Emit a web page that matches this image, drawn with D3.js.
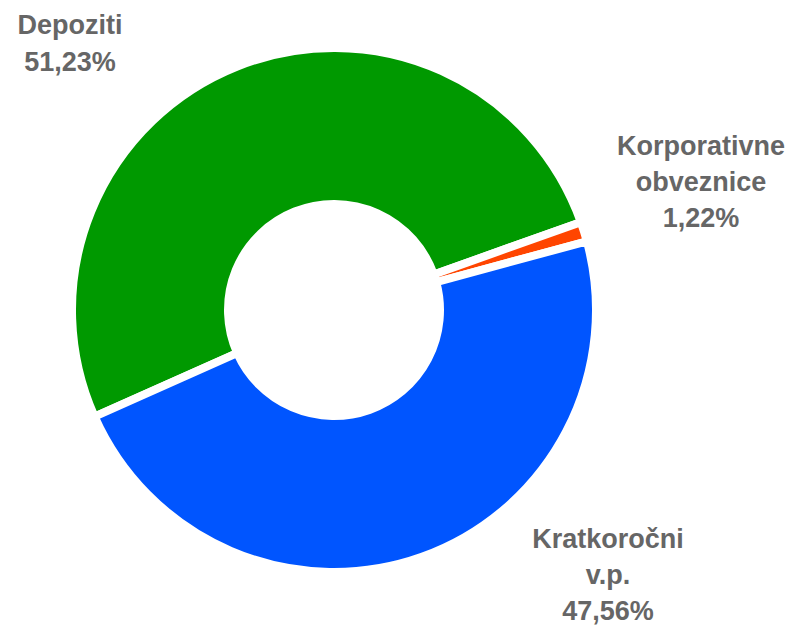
<!DOCTYPE html>
<html><head><meta charset="utf-8">
<script src="https://cdn.jsdelivr.net/npm/d3@7"></script>
<style>html,body{margin:0;padding:0;background:#fff;}</style>
</head><body>
<svg id="c" width="794" height="627"></svg>
<script>
const categories = ["Depoziti", "Korporativne obveznice", "Kratkoročni v.p."];
const values = [51.23, 1.22, 47.56];
const labelLines = [["Depoziti", "51,23%"], ["Korporativne", "obveznice", "1,22%"], ["Kratkoročni", "v.p.", "47,56%"]];
const colors = ["#009900", "#FF4500", "#0055FF"];
const labelPos = [[70, 34], [701, 155], [608, 548]];

const svg = d3.select("#c");
const cx = 334, cy = 310;
const start = 246 * Math.PI / 180;
const pie = d3.pie().sort(null).value(d => d).startAngle(start).endAngle(start + 2 * Math.PI);
const arc = d3.arc().innerRadius(106).outerRadius(262);
const g = svg.append("g").attr("transform", `translate(${cx},${cy})`);
g.selectAll("path").data(pie(values)).join("path")
  .attr("d", arc)
  .attr("fill", (d, i) => colors[i])
  .attr("stroke", "#fff")
  .attr("stroke-width", 8)
  .attr("stroke-linejoin", "miter");

const lh = 36;
labelLines.forEach((lines, i) => {
  const t = svg.append("text")
    .attr("x", labelPos[i][0]).attr("y", labelPos[i][1])
    .attr("text-anchor", "middle")
    .attr("font-family", "Liberation Sans, Arial, sans-serif")
    .attr("font-weight", "bold")
    .attr("font-size", 27)
    .attr("fill", "#666666");
  lines.forEach((l, j) => {
    t.append("tspan").attr("x", labelPos[i][0]).attr("y", labelPos[i][1] + j * (i === 0 ? 37 : lh)).text(l);
  });
});
</script>
</body></html>
